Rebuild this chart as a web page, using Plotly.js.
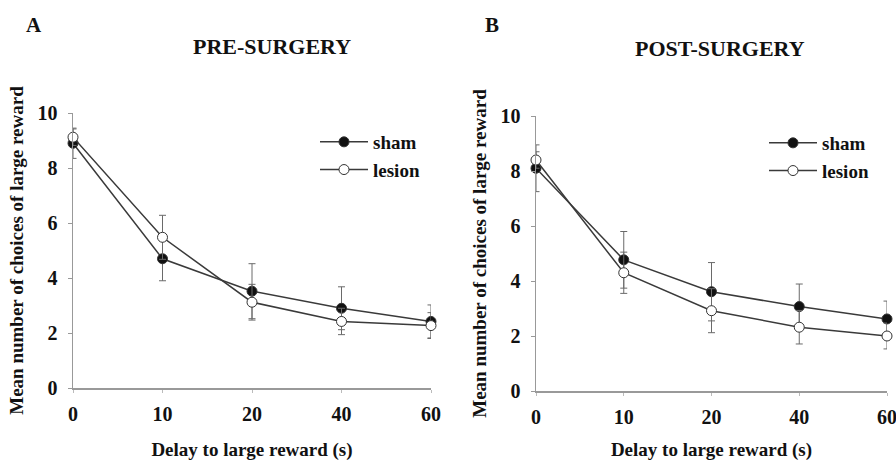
<!DOCTYPE html>
<html>
<head>
<meta charset="utf-8">
<script src="https://cdn.plot.ly/plotly-3.0.1.min.js"></script>
<style>html,body{margin:0;padding:0;background:#fff;}#chart{width:896px;height:461px;}</style>
</head>
<body>
<div id="chart"></div>
<script>
var delays = ['0', '10', '20', '40', '60'];
var preSham = [8.9, 4.7, 3.52, 2.9, 2.42];
var preShamErr = [0.55, 0.8, 1.0, 0.78, 0.6];
var preLesion = [9.12, 5.48, 3.12, 2.42, 2.27];
var preLesionErr = [0.3, 0.8, 0.65, 0.48, 0.47];
var postSham = [8.1, 4.77, 3.61, 3.07, 2.62];
var postShamErr = [0.85, 1.03, 1.06, 0.82, 0.65];
var postLesion = [8.4, 4.3, 2.92, 2.32, 2.0];
var postLesionErr = [0.3, 0.75, 0.8, 0.61, 0.47];
var seriesNames = ['sham', 'lesion'];

var FONT = 'Liberation Serif, Times New Roman, serif';
var lineCol = '#3a3a3a';
var errCol = '#6a6a6a';

function trace(y, err, name, filled, xa, ya, leg) {
  return {
    x: delays, y: y, name: name, type: 'scatter', mode: 'lines+markers',
    xaxis: xa, yaxis: ya, legend: leg, cliponaxis: false,
    line: {color: lineCol, width: 1.5},
    marker: {size: 10, symbol: 'circle', color: filled ? '#111' : '#fff',
             line: {color: '#333', width: 1}},
    error_y: {type: 'data', array: err, visible: true, color: errCol, thickness: 1, width: 3.5}
  };
}

var data = [
  trace(preSham, preShamErr, seriesNames[0], true, 'x', 'y', 'legend'),
  trace(preLesion, preLesionErr, seriesNames[1], false, 'x', 'y', 'legend'),
  trace(postSham, postShamErr, seriesNames[0], true, 'x2', 'y2', 'legend2'),
  trace(postLesion, postLesionErr, seriesNames[1], false, 'x2', 'y2', 'legend2')
];

function xax(domain, anchor) {
  return {
    domain: domain, anchor: anchor, type: 'category', range: [0, 4],
    showline: true, linecolor: '#999', linewidth: 1.5, showgrid: false, zeroline: false,
    ticks: 'outside', ticklen: 3, tickcolor: '#bbb', tickwidth: 1,
    ticklabelstandoff: 4,
    tickfont: {family: FONT, size: 20, color: '#111', weight: 'bold'},
    title: {text: 'Delay to large reward (s)', standoff: 23,
            font: {family: FONT, size: 19, color: '#111', weight: 'bold'}},
    automargin: false
  };
}
function yax(domain, anchor) {
  return {
    domain: domain, anchor: anchor, range: [0, 10], tickvals: [0, 2, 4, 6, 8, 10],
    showline: true, linecolor: '#999', linewidth: 1.5, showgrid: false, zeroline: false,
    ticks: 'outside', ticklen: 4, tickcolor: '#999', tickwidth: 1,
    ticklabelstandoff: 6,
    tickfont: {family: FONT, size: 20, color: '#111', weight: 'bold'},
    title: {text: 'Mean number of choices of large reward', standoff: 9,
            font: {family: FONT, size: 19, color: '#111', weight: 'bold'}},
    automargin: false
  };
}

var legStyle = function (x, y) {
  return {x: x, y: y, xanchor: 'left', yanchor: 'top', bgcolor: 'rgba(0,0,0,0)',
          font: {family: FONT, size: 19, color: '#111', weight: 'bold'},
          itemwidth: 48, tracegroupgap: 0};
};

function ann(text, x, y, size) {
  return {text: text, x: x / 896, y: 1 - y / 461, xref: 'paper', yref: 'paper',
          xanchor: 'center', yanchor: 'middle', showarrow: false,
          font: {family: FONT, size: size, color: '#111', weight: 'bold'}};
}

var layout = {
  width: 896, height: 461,
  margin: {l: 0, r: 0, t: 0, b: 0},
  paper_bgcolor: '#fff', plot_bgcolor: '#fff',
  showlegend: true,
  xaxis: xax([73 / 896, 431 / 896], 'y'),
  yaxis: yax([1 - 388 / 461, 1 - 113 / 461], 'x'),
  xaxis2: xax([536 / 896, 887 / 896], 'y2'),
  yaxis2: yax([1 - 391 / 461, 1 - 116 / 461], 'x2'),
  legend: legStyle(315 / 896, 1 - 123 / 461),
  legend2: legStyle(764 / 896, 1 - 124 / 461),
  annotations: [
    ann('PRE-SURGERY', 272, 47, 22),
    ann('POST-SURGERY', 720, 48, 22),
    ann('A', 34, 25, 21),
    ann('B', 492, 25, 21)
  ]
};

Plotly.newPlot('chart', data, layout, {staticPlot: true, displayModeBar: false});
</script>
</body>
</html>
